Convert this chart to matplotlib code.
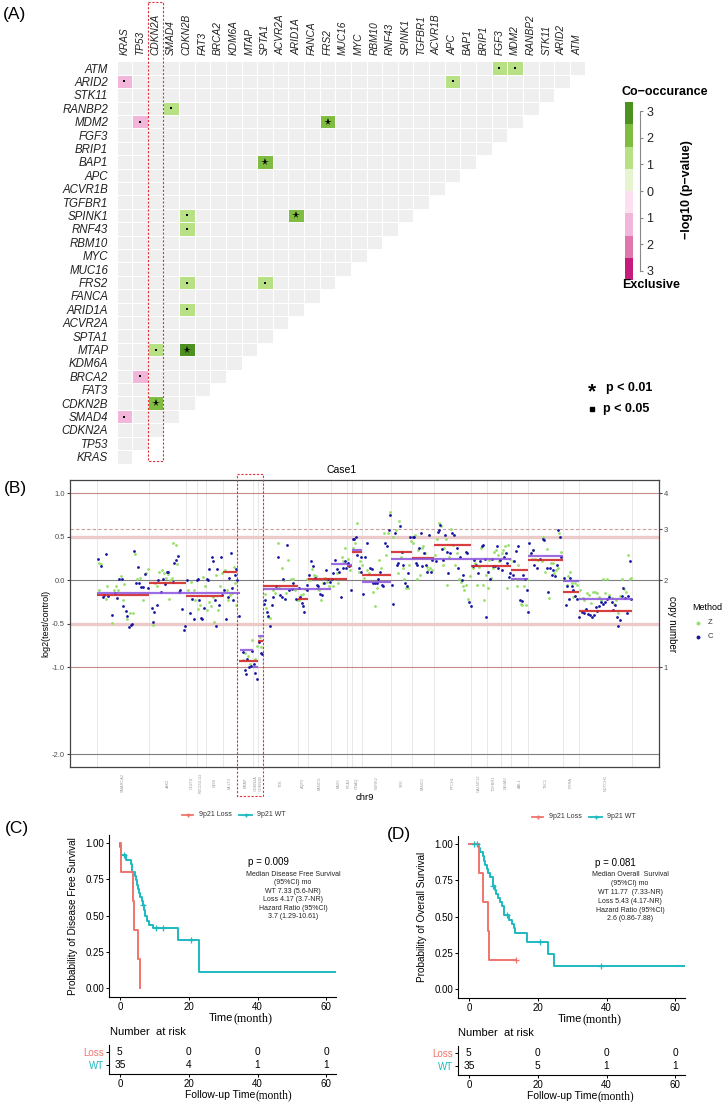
import numpy as np
import matplotlib
matplotlib.use("Agg")
import matplotlib.pyplot as plt
from matplotlib.colors import ListedColormap, BoundaryNorm
from matplotlib.patches import Rectangle

plt.rcParams['font.family'] = ['Liberation Sans', 'DejaVu Sans']

W, H = 722, 1102

# ---------------- (A) somatic interactions ----------------
GENES = ["KRAS", "TP53", "CDKN2A", "SMAD4", "CDKN2B", "FAT3", "BRCA2", "KDM6A",
         "MTAP", "SPTA1", "ACVR2A", "ARID1A", "FANCA", "FRS2", "MUC16", "MYC",
         "RBM10", "RNF43", "SPINK1", "TGFBR1", "ACVR1B", "APC", "BAP1", "BRIP1",
         "FGF3", "MDM2", "RANBP2", "STK11", "ARID2", "ATM"]
# (row gene, column gene, signed -log10(p), mark)
PAIRS = [("ARID2", "KRAS", -1.6, "."), ("MDM2", "TP53", -1.6, "."),
         ("BRCA2", "TP53", -1.6, "."), ("SMAD4", "KRAS", -1.6, "."),
         ("RANBP2", "SMAD4", 1.5, "."), ("MDM2", "FRS2", 2.4, "*"),
         ("ATM", "FGF3", 1.5, "."), ("ATM", "MDM2", 1.5, "."),
         ("ARID2", "APC", 1.5, "."), ("BAP1", "SPTA1", 2.4, "*"),
         ("SPINK1", "CDKN2B", 1.5, "."), ("SPINK1", "ARID1A", 2.4, "*"),
         ("RNF43", "CDKN2B", 1.5, "."), ("FRS2", "CDKN2B", 1.5, "."),
         ("FRS2", "SPTA1", 1.5, "."), ("ARID1A", "CDKN2B", 1.5, "."),
         ("MTAP", "CDKN2A", 1.5, "."), ("MTAP", "CDKN2B", 3.2, "*"),
         ("CDKN2B", "CDKN2A", 2.4, "*")]
CB_COLORS = ["#C51B7D", "#DE77AE", "#F1B6DA", "#FDE0EF",
             "#E6F5D0", "#B8E186", "#7FBC41", "#4D9221"]
CB_TICKS = [-3, -2, -1, 0, 1, 2, 3]
CB_LABELS = ["3", "2", "1", "0", "1", "2", "3"]

# ---------------- (B) chr9 copy number, Case1 ----------------
SEG_BOUNDS = [290, 448, 558, 590, 617, 668, 712, 760, 775, 790, 895, 925, 992,
              1040, 1055, 1085, 1173, 1235, 1302, 1413, 1461, 1503, 1533, 1585,
              1688, 1736, 1895]
SEG_GENES = ["SMARCA2", "JAK2", "CD274", "PDCD1LG2", "NFIB", "MLLT3", "MTAP",
             "CDKN2A", "CDKN2B", "TEK", "AQP3", "FANCG", "PAX5", "PCA3", "GNAQ",
             "NTRK2", "SYK", "FANCC", "PTCH1", "GALNT12", "TGFBR1", "NR4A3",
             "ABL1", "TSC1", "RXRA", "NOTCH1"]
Z_POINTS = [
    (297, 0.20), (304, 0.19), (298, -0.11), (318, -0.21), (322, -0.07), (335, -0.49), (342, -0.11),
    (348, -0.07), (355, -0.11), (362, 0.05), (368, -0.23), (372, -0.04), (380, -0.45), (390, -0.38),
    (398, -0.38), (405, 0.30), (412, 0.01), (420, 0.03), (428, -0.23), (437, 0.08), (445, 0.13),
    (458, -0.51), (465, -0.03), (470, -0.07), (478, 0.09), (485, 0.12), (492, 0.08), (498, 0.03),
    (504, 0.07), (508, -0.21), (510, 0.0), (515, 0.03), (520, 0.43), (527, 0.41), (531, 0.19),
    (565, -0.11), (573, -0.02), (582, -0.11), (586, -0.23), (593, -0.33), (600, -0.28), (610, 0.04),
    (615, -0.07), (622, -0.34), (628, -0.25), (632, -0.30), (638, -0.19), (642, -0.48), (648, 0.06),
    (655, -0.34), (660, -0.07), (665, 0.08),
    (675, 0.12), (680, -0.11), (685, -0.23), (690, -0.17), (696, -0.15), (702, 0.15), (706, -0.03),
    (709, -0.28),
    (730, -0.92), (736, -0.84), (744, -0.87), (750, -0.96), (755, -0.69), (764, -0.90), (770, -0.75),
    (780, -0.65), (784, -0.77),
    (795, -0.16), (798, -0.32), (805, -0.42), (810, -0.43), (818, -0.11), (825, -0.15), (833, 0.43),
    (838, -0.09), (845, 0.14), (852, 0.0), (858, -0.15), (865, 0.23), (872, 0.01), (878, 0.01),
    (885, -0.11), (890, -0.23),
    (898, -0.23), (903, -0.17), (908, -0.16), (915, -0.10), (920, 0.02),
    (930, 0.0), (935, 0.13), (942, 0.06), (948, 0.05), (953, -0.10), (958, -0.11), (962, -0.23),
    (968, -0.03), (975, 0.03), (982, -0.02), (988, -0.07),
    (998, -0.07), (1003, 0.02), (1010, 0.08), (1015, -0.03), (1025, 0.27), (1030, 0.22), (1035, 0.37),
    (1045, 0.25), (1050, 0.12), (1060, 0.37), (1066, 0.43), (1070, 0.66), (1076, 0.10), (1080, 0.22),
    (1085, 0.18), (1092, 0.03), (1100, 0.12), (1108, 0.08), (1118, -0.13), (1125, -0.30), (1132, -0.09),
    (1138, 0.23), (1143, 0.14), (1152, 0.54), (1158, 0.29), (1165, 0.54), (1170, 0.79),
    (1180, 0.50), (1187, 0.58), (1193, 0.08), (1198, 0.68), (1203, 0.27), (1208, 0.14), (1213, 0.01),
    (1218, -0.09), (1223, -0.09), (1228, 0.18), (1233, 0.45),
    (1240, 0.43), (1245, 0.52), (1250, 0.02), (1255, 0.35), (1260, 0.06), (1265, 0.37), (1270, 0.39),
    (1275, 0.31), (1280, 0.15), (1285, 0.12), (1290, 0.14), (1295, 0.12),
    (1305, 0.29), (1312, 0.47), (1318, 0.66), (1323, 0.62), (1328, 0.18), (1333, 0.37), (1338, 0.48),
    (1342, -0.05), (1348, 0.27), (1353, 0.59), (1358, 0.41), (1365, 0.18), (1372, 0.31), (1378, 0.02),
    (1383, -0.02), (1388, -0.07), (1393, -0.11), (1398, -0.05), (1405, -0.21), (1410, 0.05),
    (1420, 0.14), (1426, 0.20), (1432, -0.05), (1438, 0.15), (1444, 0.37), (1448, -0.05), (1453, -0.23),
    (1459, 0.06), (1463, -0.09), (1468, 0.23), (1473, 0.03), (1478, 0.14), (1483, 0.33), (1488, 0.35),
    (1493, 0.29), (1498, 0.22), (1505, 0.31), (1510, 0.35), (1515, 0.39), (1520, -0.09), (1525, 0.41),
    (1529, 0.25),
    (1540, 0.22), (1545, 0.02), (1550, -0.07), (1555, 0.18), (1562, -0.27), (1567, -0.28), (1573, -0.07),
    (1578, -0.28), (1582, 0.02),
    (1590, 0.29), (1596, 0.25), (1600, 0.35), (1606, 0.25), (1615, 0.23), (1625, 0.22), (1630, 0.50),
    (1635, 0.09), (1642, 0.36), (1647, -0.20), (1652, 0.20), (1658, 0.20), (1663, 0.08), (1668, 0.12),
    (1673, 0.14), (1678, 0.54), (1683, 0.33),
    (1695, 0.0), (1700, -0.05), (1705, 0.05), (1710, 0.10), (1715, -0.03), (1720, -0.19), (1725, -0.03),
    (1730, -0.05),
    (1740, -0.11), (1748, -0.20), (1753, -0.23), (1760, -0.15), (1766, -0.17), (1772, -0.26), (1778, -0.13),
    (1785, -0.14), (1790, -0.15), (1796, -0.19), (1802, -0.23), (1808, 0.01), (1815, -0.15), (1822, 0.02),
    (1828, -0.17), (1835, -0.20), (1842, -0.27), (1848, -0.23), (1855, -0.38), (1860, -0.18), (1866, 0.02),
    (1872, -0.10), (1878, -0.13), (1885, 0.29), (1890, 0.02), (1894, 0.03)]
C_POINTS = [
    (293, 0.25), (302, 0.16), (308, -0.19), (312, -0.17), (318, 0.30), (325, -0.18), (335, -0.40),
    (345, -0.15), (352, -0.20), (358, 0.01), (365, 0.01), (370, -0.30), (377, -0.35), (382, -0.41),
    (388, -0.54), (392, -0.51), (397, -0.50), (403, 0.34), (408, -0.03), (413, 0.15), (418, -0.03),
    (423, -0.08), (430, -0.08), (436, 0.07), (443, -0.09),
    (455, -0.32), (460, -0.48), (463, -0.37), (470, -0.28), (475, 0.0), (484, -0.13), (490, 0.02),
    (495, -0.04), (500, 0.10), (505, 0.10), (518, -0.02), (522, 0.20), (528, 0.23), (533, 0.28),
    (537, -0.13), (540, -0.11), (546, -0.33), (552, -0.57), (556, -0.53),
    (562, 0.0), (570, -0.38), (575, -0.21), (583, -0.44), (590, 0.0), (595, 0.01), (598, -0.23),
    (603, -0.43), (607, -0.44), (612, -0.32), (620, 0.02), (625, 0.0), (628, 0.13), (635, 0.27),
    (640, 0.22), (645, -0.23), (648, -0.52), (652, 0.13), (657, -0.28), (662, 0.27), (665, -0.17),
    (672, -0.11), (678, -0.44), (683, -0.19), (688, 0.03), (692, 0.31), (697, -0.09), (700, -0.23),
    (705, 0.06), (708, 0.13), (711, 0.0),
    (716, -0.41), (728, -0.82), (735, -1.03), (738, -1.08), (742, -0.90), (748, -1.0), (752, -0.98),
    (757, -0.81), (762, -0.96), (766, -1.07), (770, -1.14), (778, -0.71), (782, -0.84), (786, -0.85),
    (793, -0.27), (796, -0.23), (800, -0.37), (803, -0.41), (810, -0.53), (815, -0.28), (820, -0.19),
    (828, -0.07), (835, 0.27), (840, -0.17), (845, -0.19), (850, 0.02), (855, -0.22), (862, 0.41),
    (868, -0.11), (875, -0.10), (880, -0.03), (888, -0.21),
    (897, -0.09), (900, -0.19), (905, -0.26), (910, -0.30), (913, -0.36), (920, -0.11), (922, -0.05),
    (928, 0.06), (933, 0.22), (940, 0.16), (945, 0.03), (950, -0.05), (955, -0.07), (960, -0.16),
    (965, -0.17), (972, -0.03), (978, 0.12), (985, 0.01), (990, -0.02),
    (995, 0.01), (1000, 0.08), (1005, 0.23), (1012, 0.13), (1018, 0.10), (1022, -0.19), (1028, 0.14),
    (1035, 0.22), (1038, 0.14), (1043, 0.20), (1048, 0.17), (1052, -0.11),
    (1058, 0.48), (1063, 0.48), (1068, 0.50), (1072, 0.29), (1078, 0.14), (1082, 0.27),
    (1084, 0.10), (1088, -0.16), (1095, 0.27), (1102, 0.43), (1110, 0.14), (1115, 0.13), (1120, -0.03),
    (1125, -0.03), (1130, -0.03), (1135, 0.01), (1140, 0.10), (1145, -0.05), (1150, -0.07), (1155, 0.43),
    (1160, 0.39), (1168, 0.58), (1170, 0.75),
    (1177, -0.05), (1180, -0.27), (1185, 0.54), (1190, 0.18), (1195, 0.20), (1200, 0.62), (1205, 0.32),
    (1210, 0.18), (1215, -0.03), (1220, -0.07), (1225, 0.08), (1230, 0.50),
    (1238, 0.50), (1242, 0.50), (1247, 0.20), (1252, 0.18), (1257, 0.37), (1262, 0.54), (1267, 0.16),
    (1272, 0.31), (1277, 0.18), (1282, 0.09), (1287, 0.52), (1292, 0.09), (1297, 0.23),
    (1308, 0.22), (1313, 0.56), (1317, 0.58), (1320, 0.64), (1325, 0.36), (1330, 0.23), (1335, 0.52),
    (1340, 0.32), (1345, 0.08), (1350, 0.31), (1355, 0.54), (1362, 0.52), (1370, 0.37), (1375, 0.14),
    (1380, 0.27), (1385, 0.0), (1390, 0.06), (1398, 0.33), (1402, 0.31), (1408, -0.25), (1412, -0.30),
    (1418, 0.17), (1423, 0.23), (1428, 0.18), (1435, 0.08), (1440, 0.22), (1446, 0.40), (1450, 0.41),
    (1455, 0.25), (1458, -0.42),
    (1465, 0.10), (1470, 0.02), (1475, 0.25), (1480, 0.17), (1485, 0.16), (1490, 0.40), (1495, 0.14),
    (1500, 0.23), (1507, 0.12), (1512, 0.27), (1517, 0.31), (1522, 0.20), (1526, 0.04), (1530, 0.08),
    (1538, 0.06), (1543, 0.22), (1548, 0.34), (1553, 0.39), (1560, -0.23), (1565, -0.24), (1570, 0.06),
    (1575, 0.02), (1580, -0.11), (1583, -0.36),
    (1588, 0.43), (1593, 0.31), (1598, 0.35), (1603, 0.18), (1610, 0.14), (1620, 0.25), (1628, 0.48),
    (1633, 0.46), (1640, 0.14), (1645, -0.14), (1650, 0.14), (1655, 0.06), (1660, 0.12), (1665, 0.05),
    (1670, 0.18), (1675, 0.58), (1680, 0.50), (1684, 0.27),
    (1692, 0.03), (1698, -0.28), (1702, -0.07), (1706, -0.21), (1710, 0.03), (1715, -0.07), (1720, -0.11),
    (1725, -0.18), (1730, -0.21),
    (1738, -0.42), (1745, -0.36), (1752, -0.38), (1758, -0.33), (1765, -0.39), (1770, -0.40), (1776, -0.42),
    (1782, -0.40), (1788, -0.31), (1792, -0.35), (1798, -0.30), (1802, -0.25), (1808, -0.27), (1815, -0.25),
    (1822, -0.21), (1828, -0.19), (1835, -0.25), (1840, -0.34), (1845, -0.28), (1850, -0.42), (1855, -0.53),
    (1860, -0.46), (1865, -0.18), (1870, -0.09), (1875, -0.20), (1880, -0.38), (1885, -0.18), (1890, 0.22),
    (1893, -0.21)]
# segment means: (start, end, log2 ratio)
RED_SEGS = [(290, 448, -0.17), (448, 558, -0.03), (558, 668, -0.18), (668, 712, 0.10),
            (718, 775, -0.925), (775, 790, -0.70), (790, 895, -0.06), (895, 925, -0.215),
            (925, 1040, 0.015), (1040, 1055, 0.16), (1055, 1085, 0.32), (1085, 1173, 0.06),
            (1173, 1235, 0.32), (1235, 1302, 0.26), (1302, 1413, 0.41), (1413, 1533, 0.16),
            (1533, 1585, 0.12), (1585, 1688, 0.23), (1688, 1736, -0.13), (1736, 1895, -0.35)]
PURPLE_SEGS = [(290, 720, -0.15), (720, 760, -0.80), (760, 775, -1.0), (775, 790, -0.64),
               (790, 992, -0.10), (992, 1040, 0.19), (1040, 1055, 0.18), (1055, 1085, 0.35),
               (1085, 1173, -0.02), (1173, 1235, 0.24), (1235, 1533, 0.24), (1533, 1585, 0.02),
               (1585, 1688, 0.28), (1688, 1736, -0.01), (1736, 1895, -0.22)]
LEFT_TICKS = [1.0, 0.5, 0.0, -0.5, -1.0, -2.0]
COPY_NUMBERS = [1, 2, 3, 4]

# ---------------- (C) disease free survival ----------------
DFS_LOSS_T = [0, 0.3, 3.7, 4.17, 5.3, 6.0]
DFS_LOSS_S = [1.0, 0.8, 0.6, 0.4, 0.2, 0.0]
DFS_WT_T = [0, 0.1, 0.4, 1.9, 3.3, 3.6, 4.3, 4.6, 5.1, 5.4, 5.7, 6.0, 6.3, 6.6, 7.0, 7.33,
            7.8, 8.6, 9.5, 17.0, 23.0, 63.5]
DFS_WT_S = [1.0, 0.971, 0.914, 0.886, 0.857, 0.80, 0.771, 0.743, 0.714, 0.686, 0.657, 0.629,
            0.60, 0.571, 0.536, 0.50, 0.464, 0.437, 0.414, 0.331, 0.110, 0.110]
DFS_WT_CENS_T = [1.2, 6.8, 10.4, 12.5, 20.6]
DFS_WT_CENS_S = [0.914, 0.571, 0.414, 0.414, 0.331]
DFS_RISK_LOSS = [5, 0, 0, 0]
DFS_RISK_WT = [35, 4, 1, 1]
DFS_TEXT = ["Median Disease Free Survival", "(95%CI) mo", "WT 7.33 (5.6-NR)",
            "Loss 4.17 (3.7-NR)", "Hazard Ratio (95%CI)", "3.7 (1.29-10.61)"]

# ---------------- (D) overall survival ----------------
OS_LOSS_T = [0, 3.0, 4.17, 5.43, 5.9, 13.7]
OS_LOSS_S = [1.0, 0.8, 0.6, 0.4, 0.2, 0.2]
OS_LOSS_CENS_T = [13.7]
OS_LOSS_CENS_S = [0.2]
OS_WT_T = [0, 2.9, 3.3, 4.0, 4.4, 4.8, 5.2, 5.6, 6.2, 6.9, 7.5, 8.0, 8.6, 9.0, 9.6, 10.2,
           11.77, 12.5, 13.0, 13.5, 16.8, 22.9, 24.7, 63.5]
OS_WT_S = [1.0, 0.971, 0.943, 0.914, 0.886, 0.857, 0.829, 0.80, 0.771, 0.714, 0.686, 0.657,
           0.628, 0.60, 0.571, 0.514, 0.48, 0.45, 0.42, 0.389, 0.324, 0.243, 0.162, 0.162]
OS_WT_CENS_T = [1.5, 2.4, 7.0, 11.0, 20.7, 38.3]
OS_WT_CENS_S = [1.0, 1.0, 0.714, 0.514, 0.324, 0.162]
OS_RISK_LOSS = [5, 0, 0, 0]
OS_RISK_WT = [35, 5, 1, 1]
OS_TEXT = ["Median Overall  Survival", "(95%CI) mo", "WT 11.77  (7.33-NR)",
           "Loss 5.43 (4.17-NR)", "Hazard Ratio (95%CI)", "2.6 (0.86-7.88)"]
RISK_TIMES = [0, 20, 40, 60]

RED = "#F0746C"
TEAL = "#1DB9C0"

fig = plt.figure(figsize=(W / 100, H / 100), dpi=100)


def px_axes(l, t, r, b):
    return fig.add_axes([l / W, 1 - b / H, (r - l) / W, (b - t) / H])


def panel_a():
    ax = px_axes(116.5, 61.3, 585.4, 463.5)
    n = len(GENES)
    pos = {g: k for k, g in enumerate(GENES)}
    base = np.full((n, n), np.nan)
    for i in range(n):
        base[i, :i + 1] = 0.0
    sig = np.full((n, n), np.nan)
    for rg, cg, v, mark in PAIRS:
        sig[pos[rg], pos[cg]] = v
    edges = np.arange(n + 1)
    ax.pcolormesh(edges, edges, np.ma.masked_invalid(base),
                  cmap=ListedColormap(["#EFEFEF"]), edgecolors="white", linewidth=0.5)
    bounds = np.linspace(-3.34, 3.34, 9)
    cmap = ListedColormap(CB_COLORS)
    ax.pcolormesh(edges, edges, np.ma.masked_invalid(sig), cmap=cmap,
                  norm=BoundaryNorm(bounds, cmap.N), edgecolors="white", linewidth=0.5)
    for rg, cg, v, mark in PAIRS:
        x, y = pos[cg] + 0.5, pos[rg] + 0.5
        if mark == "*":
            ax.plot(x, y, marker="*", ms=5.5, color="black", mew=0)
        else:
            ax.plot(x, y, marker="s", ms=1.5, color="black", mew=0)
    ax.set_xlim(0, n)
    ax.set_ylim(0, n)
    for s in ax.spines.values():
        s.set_visible(False)
    ax.xaxis.tick_top()
    ax.set_xticks(edges[:-1] + 0.5)
    ax.set_xticklabels(GENES, rotation=90, fontsize=7.3, style="italic", color="#222")
    ax.set_yticks(edges[:-1] + 0.5)
    ax.set_yticklabels(GENES, fontsize=8.3, style="italic", color="#222")
    ax.tick_params(axis="x", length=0, pad=4.5)
    ax.tick_params(axis="y", length=0, pad=6)

    # colour key
    cax = px_axes(625, 102, 633, 280)
    for k in range(8):
        cax.axhspan(bounds[k], bounds[k + 1], color=CB_COLORS[k], lw=0)
    cax.set_ylim(bounds[0], bounds[-1])
    cax.set_xlim(0, 1)
    cax.set_xticks([])
    for side in ["left", "top", "bottom"]:
        cax.spines[side].set_visible(False)
    cax.spines["right"].set_position(("outward", 5))
    cax.spines["right"].set_bounds(-3, 3)
    cax.spines["right"].set_color("#888")
    cax.yaxis.tick_right()
    cax.set_yticks(CB_TICKS)
    cax.set_yticklabels(CB_LABELS)
    cax.tick_params(axis="y", length=2.5, color="#888", labelsize=9, pad=2, labelcolor="#222")


def panel_b():
    bx = px_axes(70, 480, 659, 767)
    bx.set_xlim(210, 1977)
    bx.set_ylim(-2.146, 1.153)
    for b in SEG_BOUNDS:
        bx.axvline(b, color="#E4E4E4", lw=0.6, zorder=0)
    bx.axhline(1.0, color="#C78A8A", lw=0.8, zorder=1)
    bx.axhline(-1.0, color="#C78A8A", lw=0.8, zorder=1)
    bx.axhline(np.log2(1.5), color="#D09A9A", lw=0.8, ls=(0, (3, 2)), zorder=1)
    bx.axhline(0.5, color="#EDCACA", lw=2.4, zorder=1)
    bx.axhline(-0.5, color="#EDCACA", lw=2.4, zorder=1)
    bx.axhline(0.0, color="#7F7F7F", lw=0.8, zorder=1)
    bx.axhline(-2.0, color="#7F7F7F", lw=0.8, zorder=1)

    zx, zy = zip(*Z_POINTS)
    cx_, cy_ = zip(*C_POINTS)
    bx.scatter(zx, zy, s=4, color="#95E067", lw=0, zorder=3)
    bx.scatter(cx_, cy_, s=4, color="#1616A0", lw=0, zorder=4)
    for x0, x1, v in RED_SEGS:
        bx.hlines(v, x0, x1, color="#D22A2A", lw=1.6, alpha=0.9, zorder=5)
    for x0, x1, v in PURPLE_SEGS:
        bx.hlines(v, x0, x1, color="#8C55DD", lw=1.6, alpha=0.85, zorder=5)

    for s in bx.spines.values():
        s.set_color("#444")
        s.set_linewidth(0.9)
    bx.set_yticks(LEFT_TICKS)
    bx.set_yticklabels([f"{v:.1f}" for v in LEFT_TICKS])
    bx.tick_params(axis="y", labelsize=5.5, labelcolor="#4D4D4D", length=2, color="#444", pad=1.5)
    centers = [(SEG_BOUNDS[k] + SEG_BOUNDS[k + 1]) / 2 for k in range(len(SEG_GENES))]
    bx.set_xticks(centers)
    bx.set_xticklabels(SEG_GENES, rotation=90, fontsize=2.8, color="#9A9A9A")
    for lbl in bx.get_xticklabels():
        lbl.set_va("center")
    bx.tick_params(axis="x", length=0, pad=11.5)

    rx = bx.twinx()
    rx.set_ylim(bx.get_ylim())
    rx.set_yticks(np.log2(np.array(COPY_NUMBERS) / 2))
    rx.set_yticklabels([str(c) for c in COPY_NUMBERS])
    rx.tick_params(axis="y", labelsize=5.5, labelcolor="#4D4D4D", length=2, color="#444", pad=1.5)
    for s in rx.spines.values():
        s.set_visible(False)


def km_panel(rect, table_rect, loss, wt, wt_cens, loss_cens, risk_loss, risk_wt):
    ax = px_axes(*rect)
    ax.step(wt[0], wt[1], where="post", color=TEAL, lw=1.4)
    ax.step(loss[0], loss[1], where="post", color=RED, lw=1.4)
    ax.plot(wt_cens[0], wt_cens[1], "+", color=TEAL, ms=4, mew=0.9)
    if loss_cens:
        ax.plot(loss_cens[0], loss_cens[1], "+", color=RED, ms=4, mew=0.9)
    ax.set_xlim(-3.15, 62.8)
    ax.set_ylim(-0.06, 1.055)
    ax.set_yticks([0, 0.25, 0.5, 0.75, 1.0])
    ax.set_yticklabels(["0.00", "0.25", "0.50", "0.75", "1.00"])
    ax.set_xticks(RISK_TIMES)
    for side in ["top", "right"]:
        ax.spines[side].set_visible(False)
    for side in ["left", "bottom"]:
        ax.spines[side].set_linewidth(0.8)
    ax.tick_params(labelsize=7, length=2.5, width=0.7, pad=1)

    tx = px_axes(*table_rect)
    tx.set_xlim(-3.15, 62.8)
    tx.set_ylim(0, 1)
    for t, a, b in zip(RISK_TIMES, risk_loss, risk_wt):
        tx.text(t, 0.77, str(a), ha="center", va="center", fontsize=7.3)
        tx.text(t, 0.30, str(b), ha="center", va="center", fontsize=7.3)
    tx.set_yticks([0.30, 0.77])
    tx.set_yticklabels(["WT", "Loss"])
    tx.get_yticklabels()[0].set_color(TEAL)
    tx.get_yticklabels()[1].set_color(RED)
    tx.set_xticks(RISK_TIMES)
    for side in ["top", "right"]:
        tx.spines[side].set_visible(False)
    for side in ["left", "bottom"]:
        tx.spines[side].set_linewidth(0.8)
    tx.tick_params(labelsize=7, length=2.5, width=0.7, pad=1)


def main():
    panel_a()
    panel_b()
    km_panel((109, 835, 336, 997), (109, 1045, 336, 1074),
             (DFS_LOSS_T, DFS_LOSS_S), (DFS_WT_T, DFS_WT_S),
             (DFS_WT_CENS_T, DFS_WT_CENS_S), None, DFS_RISK_LOSS, DFS_RISK_WT)
    km_panel((458, 836, 685, 998), (458, 1046, 685, 1075),
             (OS_LOSS_T, OS_LOSS_S), (OS_WT_T, OS_WT_S),
             (OS_WT_CENS_T, OS_WT_CENS_S), (OS_LOSS_CENS_T, OS_LOSS_CENS_S),
             OS_RISK_LOSS, OS_RISK_WT)

    # overlay in pixel units for labels, boxes and hand-made legends
    ov = fig.add_axes([0, 0, 1, 1], zorder=20)
    ov.set_xlim(0, W)
    ov.set_ylim(H, 0)
    ov.axis("off")
    ov.patch.set_alpha(0)

    for lab, x, y in [("(A)", 15, 14), ("(B)", 15, 489), ("(C)", 17, 828), ("(D)", 399, 834)]:
        ov.text(x, y, lab, fontsize=12.5, ha="center", va="center")

    red_box = dict(fill=False, ec="#E0303A", lw=0.8, ls=(0, (2, 1.5)))
    ov.add_patch(Rectangle((147.5, 2), 15, 459, **red_box))
    ov.add_patch(Rectangle((237.3, 474), 26, 322, **red_box))

    # panel A key
    ov.text(665, 92, "Co\u2212occurance", fontsize=9, weight="bold", ha="center", va="center")
    ov.text(622, 285, "Exclusive", fontsize=9, weight="bold", ha="left", va="center")
    ov.text(687, 190, "\u2212log10 (p\u2212value)", fontsize=9, weight="bold",
            rotation=90, ha="center", va="center")
    ov.text(592, 392, "*", fontsize=15, weight="bold", ha="center", va="center")
    ov.plot(592, 409, "s", ms=3, color="black")
    ov.text(606, 388, "p < 0.01", fontsize=9, weight="bold", va="center")
    ov.text(603, 409, "p < 0.05", fontsize=9, weight="bold", va="center")

    # panel B texts
    ov.text(342, 470, "Case1", fontsize=7.5, ha="center", va="center")
    ov.text(46, 623, "log2(test/control)", fontsize=6.5, rotation=90, ha="center", va="center")
    ov.text(672, 624, "copy number", fontsize=7, rotation=270, ha="center", va="center")
    ov.text(365, 798, "chr9", fontsize=6.8, ha="center", va="center")
    ov.text(692, 608, "Method", fontsize=6.5, va="center")
    ov.plot(698, 623, "o", ms=1.8, color="#95E067")
    ov.plot(698, 637, "o", ms=1.8, color="#1616A0")
    ov.text(708, 623, "Z", fontsize=5.5, va="center", color="#333")
    ov.text(708, 637, "C", fontsize=5.5, va="center", color="#333")

    # survival legends
    for (x0, y0) in [(182, 815), (532, 817)]:
        ov.plot([x0, x0 + 11], [y0, y0], color=RED, lw=1.3)
        ov.plot(x0 + 5.5, y0, "+", color=RED, ms=3.5)
        ov.text(x0 + 17, y0, "9p21 Loss", fontsize=5, va="center", color="#333")
        ov.plot([x0 + 57, x0 + 70], [y0, y0], color=TEAL, lw=1.3)
        ov.plot(x0 + 63.5, y0, "+", color=TEAL, ms=3.5)
        ov.text(x0 + 75, y0, "9p21 WT", fontsize=5, va="center", color="#333")

    # survival annotation text
    ov.text(248, 862, "p = 0.009", fontsize=7, va="center")
    for k, line in enumerate(DFS_TEXT):
        ov.text(293, 874 + k * 8.6, line, fontsize=5, ha="center", va="center", color="#222")
    ov.text(595, 863, "p = 0.081", fontsize=7, va="center")
    for k, line in enumerate(OS_TEXT):
        ov.text(630, 875 + k * 8.8, line, fontsize=5, ha="center", va="center", color="#222")

    ov.text(73, 916, "Probability of Disease Free Survival", fontsize=7.2, rotation=90,
            ha="center", va="center")
    ov.text(422, 917, "Probability of Overall Survival", fontsize=7.2, rotation=90,
            ha="center", va="center")

    serif = ["Liberation Serif", "DejaVu Serif"]
    for split, y in [(233, 1018), (582.5, 1019)]:
        ov.text(split, y, "Time", fontsize=8, ha="right", va="center")
        ov.text(split, y, "(month)", fontsize=8.7, ha="left", va="center", family=serif)
    for split, y in [(255.5, 1095), (597, 1096)]:
        ov.text(split, y, "Follow-up Time", fontsize=7.5, ha="right", va="center")
        ov.text(split, y, "(month)", fontsize=8.3, ha="left", va="center", family=serif)
    ov.text(110, 1032, "Number  at risk", fontsize=8, va="center")
    ov.text(458, 1033, "Number  at risk", fontsize=8, va="center")

    fig.savefig("out.png", dpi=100)


if __name__ == "__main__":
    main()
